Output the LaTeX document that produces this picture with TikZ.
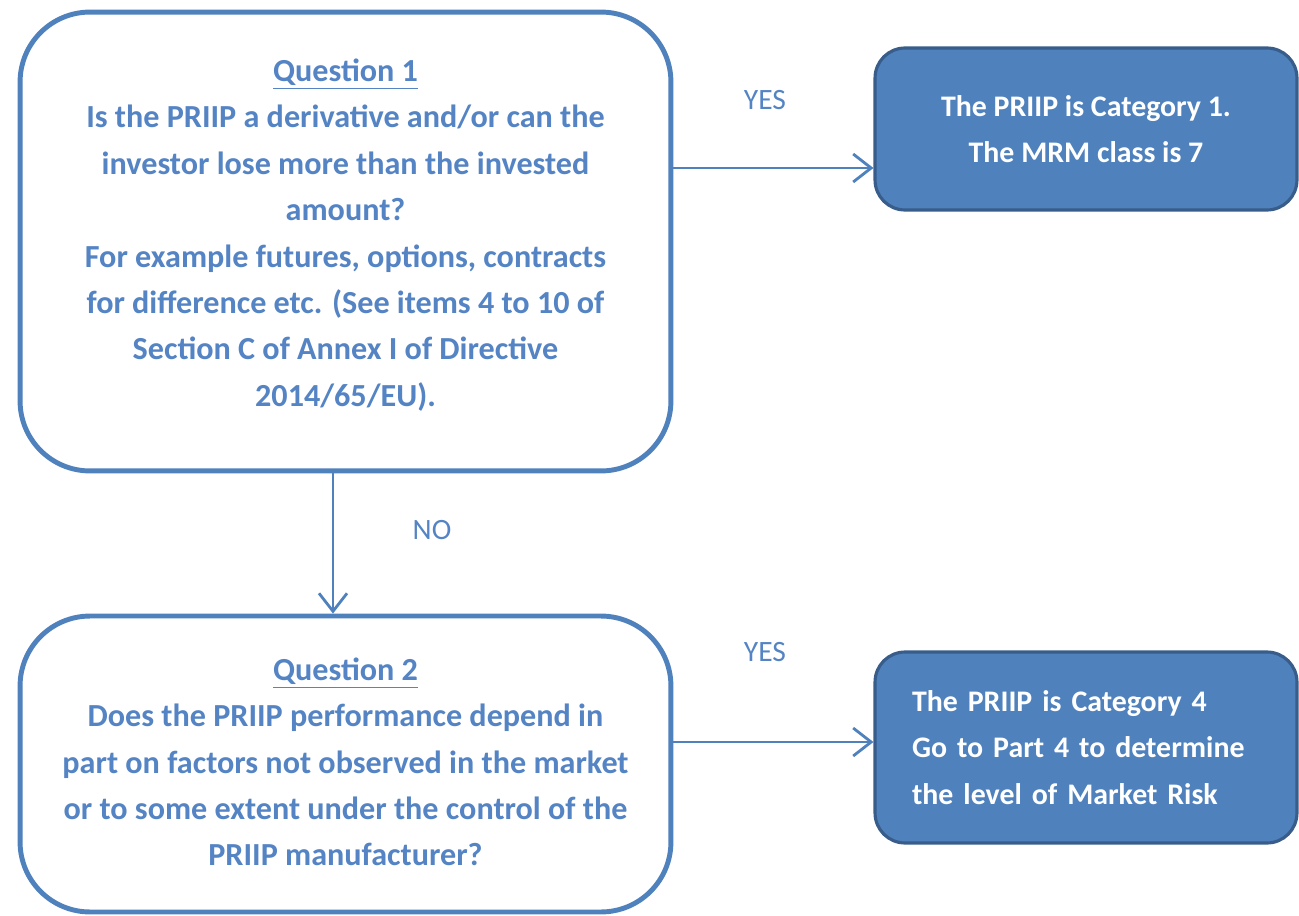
\documentclass[tikz,border=0pt]{standalone}
\usepackage{fontspec}
\setmainfont{Carlito}
\usetikzlibrary{arrows.meta}
\definecolor{qblue}{RGB}{79,129,189}
\definecolor{qtext}{RGB}{84,132,196}
\definecolor{adark}{RGB}{56,93,138}
\tikzset{
  qbox/.style={draw=qblue, line width=2.8pt, rounded corners=1.4cm, fill=white, inner sep=0pt},
  qtxt/.style={align=center, text=qtext, font=\fontsize{18.3}{26.4}\selectfont\bfseries},
  abox/.style={draw=adark, line width=1.8pt, rounded corners=0.6cm, fill=qblue,
    text=white, font=\fontsize{17}{26.4}\selectfont\bfseries, inner sep=0pt},
  conn/.style={draw=qblue, line width=1.6pt, -{Straight Barb[length=0.36cm,width=0.56cm,line width=1.6pt]}},
  lbl/.style={text=qtext, font=\fontsize{16.8}{20}\selectfont}
}
\begin{document}
\begin{tikzpicture}[x=0.02cm,y=-0.02cm]
\useasboundingbox (0,0) rectangle (1299,916);
\node[qbox, minimum width=13.02cm, minimum height=9.18cm] (q1) at (345.5,241.5) {};
\node[qtxt] (q1t) at (345.5,235)
 {\underline{Question 1}\\Is the PRIIP a derivative and/or can the\\investor lose more than the invested\\amount?\\For example futures, options, contracts\\for difference etc. (See items 4 to 10 of\\Section C of Annex I of Directive\\2014/65/EU).};
\node[qbox, minimum width=13.02cm, minimum height=5.92cm] (q2) at (345.5,764) {};
\node[qtxt] (q2t) at (345.5,762)
 {\underline{Question 2}\\Does the PRIIP performance depend in\\part on factors not observed in the market\\or to some extent under the control of the\\PRIIP manufacturer?};
\node[abox, minimum width=8.44cm, minimum height=3.24cm, align=center] (a1) at (1086,129)
 {The PRIIP is Category 1.\\The MRM class is 7};
\node[abox, minimum width=8.44cm, minimum height=3.82cm, align=left, text width=6.96cm] (a2) at (1086,747.5)
 {The PRIIP is Category 4\\Go to Part 4 to determine\\the level of Market Risk};
\coordinate (q1r) at (q1.east |- 0,168);
\coordinate (a1l) at (a1.west |- 0,168);
\draw[conn] (q1r) -- (a1l);
\coordinate (q1b) at (333,0 |- q1.south);
\coordinate (q2top) at (333,0 |- q2.north);
\draw[conn] (q1b) -- (q2top);
\coordinate (q2r) at (q2.east |- 0,742);
\coordinate (a2l) at (a2.west |- 0,742);
\draw[conn] (q2r) -- (a2l);
\node[lbl] (yes1) at (765,100) {YES};
\node[lbl] (no1) at (432,530) {NO};
\node[lbl] (yes2) at (765,652) {YES};
\end{tikzpicture}
\end{document}
